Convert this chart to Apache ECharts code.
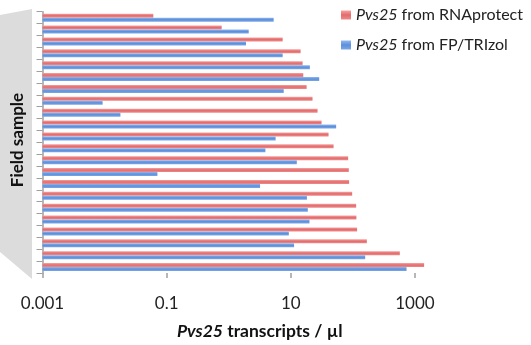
<!DOCTYPE html>
<html>
<head>
<meta charset="utf-8">
<script src="https://cdn.jsdelivr.net/npm/echarts@6/dist/echarts.min.js"></script>
<style>
  html, body { margin: 0; padding: 0; background: #fff; }
  #chart { width: 531px; height: 345px; }
</style>
</head>
<body>
<div id="chart"></div>
<script>
// field samples, listed top to bottom as in the figure
const samples = ['S1', 'S2', 'S3', 'S4', 'S5', 'S6', 'S7', 'S8', 'S9', 'S10', 'S11',
                 'S12', 'S13', 'S14', 'S15', 'S16', 'S17', 'S18', 'S19', 'S20', 'S21', 'S22'];

// Pvs25 transcripts / µl
const rnaprotect = [0.061, 0.77, 7.4, 14.4, 15.5, 15.9, 18, 22.4, 27, 31.3, 40.6,
                    48.9, 84, 86, 87, 97.5, 113, 114, 117, 168, 571, 1406];
const fpTrizol = [5.3, 2.1, 1.9, 7.4, 20.3, 28.7, 7.7, 0.0093, 0.018, 53.8, 5.7,
                  3.9, 12.5, 0.071, 3.2, 18.2, 18.8, 20, 9.3, 11.3, 158, 733];

const xTicks = [0.001, 0.1, 10, 1000];

const font = 'Lato, "Open Sans", sans-serif';

const chart = echarts.init(document.getElementById('chart'));

function legendLabel(name) {
    return '{i|Pvs25}' + name.replace('Pvs25', '');
}

chart.setOption({
    animation: false,
    textStyle: { fontFamily: font },
    grid: { left: 42.5, right: 54, top: 11.7, bottom: 69.7, containLabel: false },
    legend: {
        orient: 'vertical',
        left: 336,
        top: 2,
        padding: 5,
        icon: 'rect',
        itemWidth: 10,
        itemHeight: 9,
        itemGap: 14,
        formatter: legendLabel,
        textStyle: {
            fontFamily: font,
            fontSize: 16,
            color: '#222',
            rich: { i: { fontStyle: 'italic', fontFamily: font, fontSize: 16, color: '#222' } }
        }
    },
    graphic: [
        {
            type: 'polygon',
            z: -1,
            shape: { points: [[0, 15], [32, 9], [32, 279], [0, 252]] },
            style: { fill: '#dcdcdc' }
        },
        {
            type: 'text',
            x: 18,
            y: 140,
            rotation: Math.PI / 2,
            style: {
                text: 'Field sample',
                fontFamily: font,
                fontSize: 17,
                fontWeight: 'bold',
                fill: '#111',
                align: 'center',
                verticalAlign: 'middle'
            }
        }
    ],
    xAxis: {
        type: 'log',
        min: 0.001,
        max: 10000,
        startValue: 0.001,
        name: '{i|Pvs25} transcripts / µl',
        nameLocation: 'middle',
        nameGap: 49,
        nameTextStyle: {
            fontFamily: font,
            fontSize: 17.5,
            fontWeight: 'bold',
            color: '#111',
            rich: { i: { fontStyle: 'italic', fontWeight: 'bold', fontFamily: font, fontSize: 17.5, color: '#111' } }
        },
        axisLine: { lineStyle: { color: '#a0a0a0', width: 1.5 } },
        axisTick: { show: true, length: 5, customValues: xTicks, lineStyle: { color: '#a0a0a0', width: 1.5 } },
        axisLabel: {
            customValues: xTicks,
            margin: 22,
            fontSize: 17,
            color: '#222',
            fontFamily: font,
            formatter: v => String(v)
        },
        splitLine: { show: false },
        minorTick: { show: false }
    },
    yAxis: {
        type: 'category',
        data: samples,
        inverse: true,
        axisLine: { lineStyle: { color: '#a0a0a0', width: 1.5 } },
        axisTick: { show: true, interval: 0, length: 6, lineStyle: { color: '#a0a0a0', width: 1 } },
        axisLabel: { show: false, interval: 0 },
        splitLine: { show: false }
    },
    series: [
        {
            name: 'Pvs25 from RNAprotect',
            type: 'bar',
            data: rnaprotect,
            barWidth: 4,
            barGap: '0%',
            itemStyle: {
                color: new echarts.graphic.LinearGradient(0, 0, 0, 1, [
                    { offset: 0, color: '#f3a3a3' },
                    { offset: 0.5, color: '#e56a6b' },
                    { offset: 1, color: '#ec8c8c' }
                ])
            }
        },
        {
            name: 'Pvs25 from FP/TRIzol',
            type: 'bar',
            data: fpTrizol,
            barWidth: 4,
            barGap: '0%',
            itemStyle: {
                color: new echarts.graphic.LinearGradient(0, 0, 0, 1, [
                    { offset: 0, color: '#93b8ee' },
                    { offset: 0.5, color: '#5b8fdc' },
                    { offset: 1, color: '#7ea6e4' }
                ])
            }
        }
    ]
});
</script>
</body>
</html>
